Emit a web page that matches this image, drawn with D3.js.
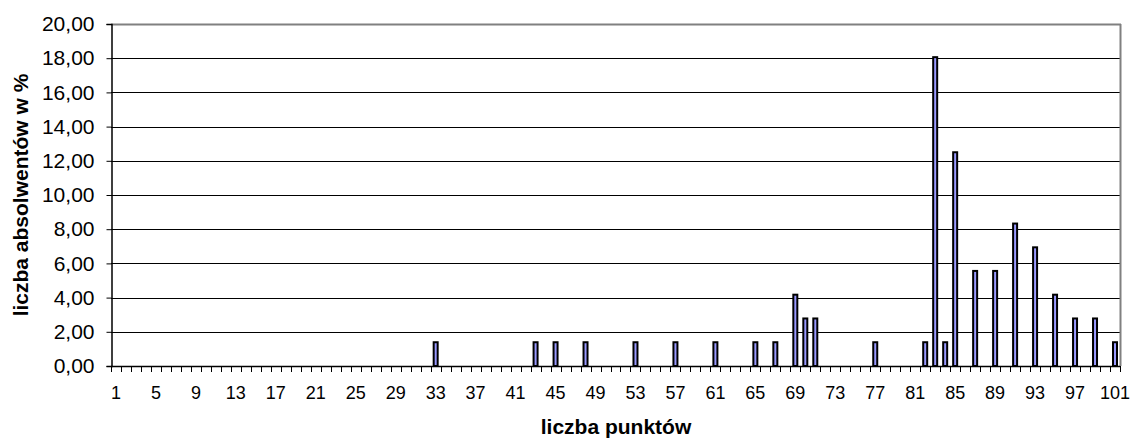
<!DOCTYPE html>
<html>
<head>
<meta charset="utf-8">
<script src="https://cdn.jsdelivr.net/npm/d3@7"></script>
<style>
html,body{margin:0;padding:0;background:#fff;}
svg{display:block;font-family:"Liberation Sans",Arial,sans-serif;}
</style>
</head>
<body>
<svg id="chart" width="1130" height="439"></svg>
<script>
// categories: points 1..101
const categories = d3.range(1, 102);
const barPoints = [33, 43, 45, 48, 53, 57, 61, 65, 67, 69, 70, 71, 77, 82, 83, 84, 85, 87, 89, 91, 93, 95, 97, 99, 101];
const barValues = [1.39, 1.39, 1.39, 1.39, 1.39, 1.39, 1.39, 1.39, 1.39, 4.17, 2.78, 2.78, 1.39, 1.39, 18.06, 1.39, 12.5, 5.56, 5.56, 8.33, 6.94, 4.17, 2.78, 2.78, 1.39];
const yTicks = [0, 2, 4, 6, 8, 10, 12, 14, 16, 18, 20];
const xLabelEvery = 4;
const xTitle = "liczba punktów";
const yTitle = "liczba absolwentów w %";

(function () {
const valueMap = new Map(barPoints.map((p, i) => [p, barValues[i]]));
const data = categories.map(c => ({cat: c, value: valueMap.has(c) ? valueMap.get(c) : 0}));

const pL = 111, pR = 1120, pT = 24, pB = 366;
const svg = d3.select("#chart");

const x = d3.scaleBand().domain(categories).range([pL, pR]).padding(0);
const y = d3.scaleLinear().domain([0, 20]).range([pB, pT]);

// gridlines
svg.append("g").selectAll("line").data(yTicks.filter(t => t > 0 && t < 20)).join("line")
  .attr("x1", pL).attr("x2", pR)
  .attr("y1", d => Math.round(y(d)) + 0.5).attr("y2", d => Math.round(y(d)) + 0.5)
  .attr("stroke", "#000").attr("stroke-width", 1);

// plot border top & right
svg.append("line").attr("x1", pL).attr("x2", pR + 1).attr("y1", pT + 0.5).attr("y2", pT + 0.5)
  .attr("stroke", "#808080").attr("stroke-width", 2);
svg.append("line").attr("x1", pR + 0.5).attr("x2", pR + 0.5).attr("y1", pT).attr("y2", pB)
  .attr("stroke", "#808080").attr("stroke-width", 2);

// bars
svg.append("g").selectAll("rect").data(data.filter(d => d.value > 0)).join("rect")
  .attr("x", d => x(d.cat) + x.bandwidth() / 2 - 2)
  .attr("width", 4)
  .attr("y", d => y(d.value))
  .attr("height", d => y(0) - y(d.value))
  .attr("fill", "#9999ff")
  .attr("stroke", "#000")
  .attr("stroke-width", 2);

// y axis
const yAxis = d3.axisLeft(y).tickValues(yTicks).tickSize(5).tickPadding(12)
  .tickFormat(d => d3.format(".2f")(d).replace(".", ","));
const gy = svg.append("g").attr("transform", `translate(${pL + 0.5},0)`).call(yAxis);
gy.select(".domain").attr("stroke", "#000").attr("stroke-width", 1.5);
gy.selectAll(".tick line").attr("stroke", "#000");
gy.selectAll("text").attr("font-size", 21).attr("fill", "#000")
  .attr("font-family", "'Liberation Sans', Arial, sans-serif");

// x axis baseline + ticks at category boundaries
const gx = svg.append("g");
gx.append("line").attr("x1", pL).attr("x2", pR).attr("y1", pB + 0.5).attr("y2", pB + 0.5)
  .attr("stroke", "#000").attr("stroke-width", 1.5);
const boundaries = categories.map(c => x(c)).concat([x(categories[categories.length - 1]) + x.bandwidth()]);
gx.selectAll("line.tk").data(boundaries).join("line").attr("class", "tk")
  .attr("x1", d => Math.round(d) + 0.5).attr("x2", d => Math.round(d) + 0.5)
  .attr("y1", pB).attr("y2", pB + 6)
  .attr("stroke", "#000").attr("stroke-width", 1);
gx.selectAll("text").data(categories.filter((c, i) => i % xLabelEvery === 0)).join("text")
  .attr("x", d => x(d) + x.bandwidth() / 2)
  .attr("y", 393)
  .attr("dy", "0.35em")
  .attr("text-anchor", "middle")
  .attr("font-size", 18)
  .attr("fill", "#000")
  .text(d => d);

// titles
svg.append("text").attr("x", 616).attr("y", 427).attr("dy", "0.35em")
  .attr("text-anchor", "middle").attr("font-size", 21).attr("font-weight", "bold")
  .text(xTitle);
svg.append("text").attr("transform", "translate(21,195) rotate(-90)").attr("dy", "0.35em")
  .attr("text-anchor", "middle").attr("font-size", 21).attr("font-weight", "bold")
  .text(yTitle);
})();
</script>
</body>
</html>
